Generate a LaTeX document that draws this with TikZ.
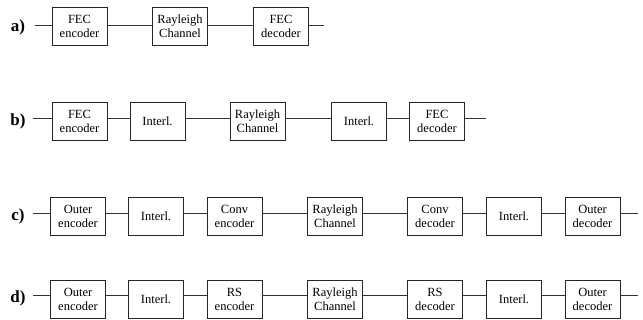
\documentclass[tikz,border=0pt]{standalone}
\usepackage{fontspec}
\setmainfont{Liberation Serif}
\begin{document}
\begin{tikzpicture}[x=1pt,y=-1pt,
  blk/.style={draw=black!85,line width=0.8pt,rectangle,minimum width=55pt,minimum height=38pt,inner sep=0pt,align=center,font=\fontsize{12.5}{14}\selectfont},
  lbl/.style={font=\fontsize{17}{17}\selectfont\bfseries,anchor=center},
  wire/.style={draw=black!80,line width=0.8pt}]
\useasboundingbox (0,0) rectangle (643,320);
% row a
\node[lbl] (la) at (18,27) {a)};
\node[blk] (a1) at (79.5,26) {FEC\\encoder};
\node[blk] (a2) at (180,26) {Rayleigh\\Channel};
\node[blk] (a3) at (281,26) {FEC\\decoder};
\coordinate (as) at (35,25);
\coordinate (ae) at (324,25);
\draw[wire] (as) -- ([yshift=1pt]a1.west);
\draw[wire] ([yshift=1pt]a1.east) -- ([yshift=1pt]a2.west);
\draw[wire] ([yshift=1pt]a2.east) -- ([yshift=1pt]a3.west);
\draw[wire] ([yshift=1pt]a3.east) -- (ae);
% row b
\node[lbl] (lb) at (18,121) {b)};
\node[blk] (b1) at (79.5,121) {FEC\\encoder};
\node[blk] (b2) at (157.5,121) {Interl.};
\node[blk] (b3) at (257.5,121) {Rayleigh\\Channel};
\node[blk] (b4) at (359,121) {Interl.};
\node[blk] (b5) at (437,121) {FEC\\decoder};
\coordinate (bs) at (33,118);
\coordinate (be) at (486,118);
\draw[wire] (bs) -- ([yshift=3pt]b1.west);
\draw[wire] ([yshift=3pt]b1.east) -- ([yshift=3pt]b2.west);
\draw[wire] ([yshift=3pt]b2.east) -- ([yshift=3pt]b3.west);
\draw[wire] ([yshift=3pt]b3.east) -- ([yshift=3pt]b4.west);
\draw[wire] ([yshift=3pt]b4.east) -- ([yshift=3pt]b5.west);
\draw[wire] ([yshift=3pt]b5.east) -- (be);
% row c
\node[lbl] (lc) at (18,216) {c)};
\node[blk] (c1) at (78,216) {Outer\\encoder};
\node[blk] (c2) at (156,216) {Interl.};
\node[blk] (c3) at (234.5,216) {Conv\\encoder};
\node[blk] (c4) at (335,216) {Rayleigh\\Channel};
\node[blk] (c5) at (435,216) {Conv\\decoder};
\node[blk] (c6) at (514,216) {Interl.};
\node[blk] (c7) at (592.5,216) {Outer\\decoder};
\coordinate (cs) at (33,213);
\coordinate (ce) at (638,213);
\draw[wire] (cs) -- ([yshift=3pt]c1.west);
\foreach \i/\j in {1/2,2/3,3/4,4/5,5/6,6/7}
  \draw[wire] ([yshift=3pt]c\i.east) -- ([yshift=3pt]c\j.west);
\draw[wire] ([yshift=3pt]c7.east) -- (ce);
% row d
\node[lbl] (ld) at (18,298) {d)};
\node[blk] (d1) at (78,299) {Outer\\encoder};
\node[blk] (d2) at (156,299) {Interl.};
\node[blk] (d3) at (234.5,299) {RS\\encoder};
\node[blk] (d4) at (335,299) {Rayleigh\\Channel};
\node[blk] (d5) at (435,299) {RS\\decoder};
\node[blk] (d6) at (514,299) {Interl.};
\node[blk] (d7) at (592.5,299) {Outer\\decoder};
\coordinate (ds) at (33,295);
\coordinate (de) at (638,295);
\draw[wire] (ds) -- ([yshift=4pt]d1.west);
\foreach \i/\j in {1/2,2/3,3/4,4/5,5/6,6/7}
  \draw[wire] ([yshift=4pt]d\i.east) -- ([yshift=4pt]d\j.west);
\draw[wire] ([yshift=4pt]d7.east) -- (de);
\end{tikzpicture}
\end{document}
